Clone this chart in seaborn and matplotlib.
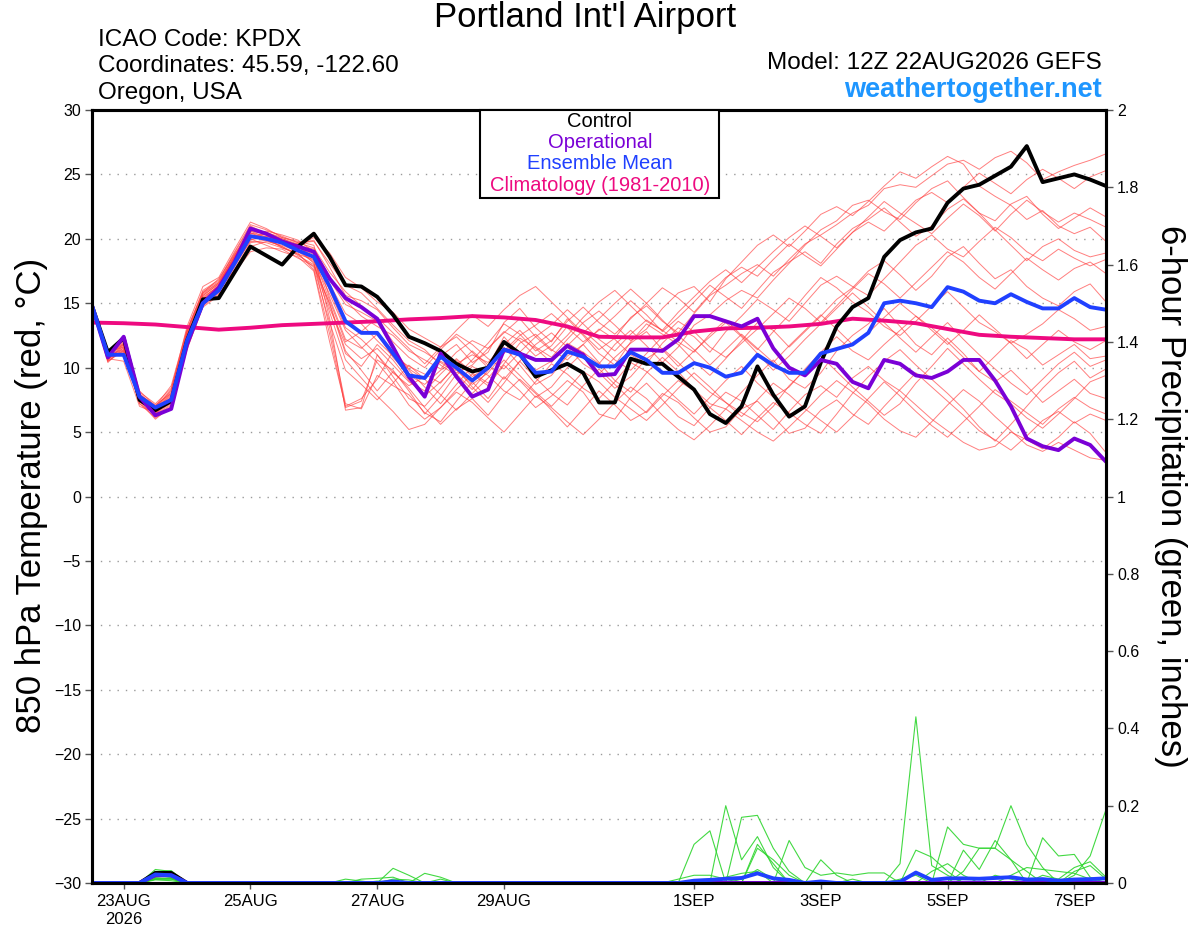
import numpy as np
import pandas as pd
import seaborn as sns
import matplotlib.pyplot as plt
from matplotlib.patches import Rectangle

# 6-hourly GEFS output, 12Z 22AUG -> 12Z 7SEP
times = pd.date_range('2026-08-22 12:00', periods=65, freq='6h')
clim_times = pd.date_range('2026-08-22 12:00', periods=33, freq='12h')

tick_days = ['2026-08-23', '2026-08-25', '2026-08-27', '2026-08-29',
             '2026-09-01', '2026-09-03', '2026-09-05', '2026-09-07']
tick_labels = ['23AUG\n2026', '25AUG', '27AUG', '29AUG', '1SEP', '3SEP', '5SEP', '7SEP']

# 850 hPa temperature (C)
control = [14.8,
           11.2, 12.3, 7.5, 6.7, 7.4, 12.1, 15.3, 15.4, 17.4, 19.4, 18.7, 18.0,
           19.4, 20.4, 18.6, 16.4, 16.3, 15.5, 14.1, 12.4, 11.9, 11.3, 10.3, 9.7,
           10.0, 12.0, 11.1, 9.3, 9.8, 10.3, 9.6, 7.3, 7.3, 10.7, 10.3, 10.3,
           9.3, 8.3, 6.4, 5.7, 7.0, 10.1, 7.9, 6.2, 7.0, 10.4, 13.2, 14.7,
           15.4, 18.6, 19.9, 20.5, 20.8, 22.8, 23.9, 24.2, 24.9, 25.6, 27.2, 24.4,
           24.7, 25.0, 24.6, 24.1]
operational = [14.8,
               10.8, 12.4, 7.75, 6.3, 6.8, 11.8, 15.0, 16.2, 18.2, 20.8, 20.4, 19.8,
               19.4, 19.0, 16.9, 15.4, 14.7, 13.8, 11.6, 9.3, 7.75, 11.1, 9.3, 7.75,
               8.3, 11.4, 11.1, 10.6, 10.6, 11.7, 11.0, 9.4, 9.5, 11.4, 11.4, 11.3,
               12.2, 14.0, 14.0, 13.6, 13.2, 13.8, 11.5, 10.0, 9.4, 10.6, 10.3, 8.9,
               8.4, 10.6, 10.3, 9.4, 9.2, 9.7, 10.6, 10.6, 9.0, 7.0, 4.5, 3.9,
               3.6, 4.5, 4.0, 2.7]
ens_mean = [14.8,
            11.0, 11.0, 7.75, 6.9, 7.5, 12.1, 15.0, 16.0, 18.1, 20.2, 20.0, 19.7,
            19.1, 18.6, 16.3, 13.6, 12.7, 12.7, 11.1, 9.4, 9.2, 10.85, 10.0, 9.0,
            10.0, 11.4, 11.0, 9.6, 9.7, 11.25, 10.85, 10.1, 10.1, 11.2, 10.6, 9.6,
            9.6, 10.35, 10.0, 9.3, 9.6, 11.0, 10.2, 9.6, 9.6, 11.1, 11.45, 11.8,
            12.7, 15.0, 15.2, 15.0, 14.7, 16.25, 15.9, 15.2, 15.0, 15.7, 15.1, 14.6,
            14.6, 15.4, 14.7, 14.5]
climatology = [13.5, 13.45, 13.35, 13.15, 12.95, 13.1, 13.3, 13.4, 13.5, 13.6, 13.75,
               13.85, 14.0, 13.9, 13.7, 13.2, 12.4, 12.35, 12.35, 12.8, 13.05, 13.1,
               13.2, 13.4, 13.8, 13.65, 13.45, 13.0, 12.55, 12.4, 12.3, 12.2, 12.2]

mem01 = [14.8, 10.6, 11.8, 7.2, 6.4, 7.6, 12.8, 15.9, 16.7, 18.9, 21.0, 20.4, 19.8,
         19.6, 19.9, 17.8, 15.6, 15.2, 14.5, 13.1, 11.8, 11.2, 10.4, 9.6, 10.2,
         11.5, 12.8, 12.1, 10.9, 11.7, 13.2, 12.6, 11.4, 12.3, 13.9, 14.8, 13.6,
         12.7, 14.2, 15.6, 16.4, 17.3, 18.0, 17.1, 18.4, 19.6, 20.3, 21.1, 22.0,
         22.6, 23.9, 24.2, 24.0, 24.9, 25.8, 26.1, 25.4, 26.3, 26.8, 25.9, 24.6,
         25.2, 25.7, 26.1, 26.6]
mem02 = [14.7, 11.2, 12.1, 8.0, 6.9, 8.3, 13.2, 16.3, 17.0, 19.2, 21.3, 20.8, 20.1,
         19.8, 19.5, 15.4, 12.2, 11.5, 12.6, 10.8, 9.4, 8.7, 9.8, 10.6, 9.3,
         10.1, 12.4, 11.0, 9.8, 10.5, 11.9, 11.2, 10.3, 11.8, 12.9, 11.7, 10.4,
         11.6, 13.3, 14.1, 15.2, 16.0, 15.4, 16.8, 18.1, 19.5, 20.7, 21.4, 22.6,
         23.0, 22.1, 21.5, 22.8, 23.9, 24.5, 23.2, 22.0, 21.4, 22.7, 23.3, 21.9,
         20.8, 21.6, 22.4, 21.7]
mem03 = [14.8, 10.9, 11.0, 7.6, 6.2, 7.1, 11.6, 15.2, 16.0, 17.6, 19.4, 19.8, 19.5,
         19.0, 18.2, 13.1, 7.2, 6.8, 9.4, 8.6, 7.9, 6.5, 5.8, 7.4, 8.9,
         7.6, 9.3, 8.2, 6.9, 7.8, 9.0, 8.1, 6.4, 6.0, 7.7, 8.8, 7.5,
         6.2, 5.5, 6.9, 8.1, 7.4, 6.3, 5.2, 6.6, 7.9, 8.6, 7.7, 9.2,
         10.1, 9.0, 8.2, 7.1, 6.0, 5.1, 4.2, 3.6, 3.9, 5.0, 4.4, 3.7,
         4.6, 5.8, 4.9, 3.4]
mem04 = [14.9, 10.5, 11.3, 7.9, 7.1, 8.0, 12.0, 14.9, 15.8, 17.8, 19.9, 20.2, 19.9,
         19.4, 18.6, 16.8, 14.9, 14.3, 13.6, 11.4, 9.9, 9.1, 10.9, 11.8, 10.4,
         11.2, 13.5, 14.6, 13.1, 12.0, 13.8, 12.5, 11.1, 10.2, 12.0, 13.4, 12.6,
         11.8, 10.5, 9.4, 10.7, 12.1, 13.5, 12.9, 11.6, 12.8, 14.0, 15.3, 16.2,
         17.5, 18.3, 17.2, 16.0, 17.1, 18.6, 19.4, 18.1, 16.9, 17.6, 16.3, 15.4,
         14.8, 15.9, 16.5, 15.1]
mem05 = [14.6, 10.7, 10.5, 7.0, 6.5, 7.4, 11.9, 15.6, 16.5, 18.6, 20.6, 20.1, 19.3,
         18.9, 17.6, 12.6, 6.9, 7.4, 10.6, 9.8, 8.2, 6.4, 7.8, 9.5, 8.3,
         9.8, 11.6, 10.2, 8.7, 9.4, 10.9, 11.8, 10.4, 9.0, 8.1, 9.6, 10.8,
         9.7, 8.3, 7.2, 6.8, 8.1, 9.4, 10.6, 9.1, 8.4, 9.6, 11.3, 12.5,
         13.4, 14.6, 13.2, 11.8, 11.0, 12.3, 11.1, 9.7, 8.9, 9.8, 8.6, 7.3,
         8.2, 9.1, 8.0, 7.6]
mem06 = [14.8, 11.0, 11.9, 7.8, 6.8, 7.9, 12.5, 15.3, 16.4, 18.5, 20.4, 20.6, 20.3,
         19.9, 19.0, 16.5, 14.2, 13.4, 12.1, 10.9, 10.1, 9.5, 8.8, 10.3, 11.0,
         10.4, 11.8, 12.9, 11.6, 10.8, 12.2, 13.5, 14.4, 13.3, 12.1, 13.0, 14.6,
         15.8, 16.3, 15.1, 16.9, 18.2, 19.5, 20.3, 19.4, 20.6, 21.9, 22.5, 21.8,
         22.9, 24.1, 25.2, 24.7, 25.6, 26.4, 25.8, 24.1, 23.3, 22.6, 21.5, 22.2,
         21.0, 20.4, 20.9, 19.8]
mem07 = [14.8, 10.4, 11.6, 7.4, 6.0, 7.0, 11.4, 14.8, 15.7, 17.4, 19.0, 19.3, 19.2,
         18.5, 17.9, 15.0, 11.3, 9.8, 8.2, 9.7, 8.4, 6.9, 5.6, 6.8, 7.6,
         6.3, 7.9, 9.1, 8.0, 6.7, 5.4, 6.8, 8.2, 7.1, 5.9, 6.6, 8.0,
         7.3, 6.1, 5.0, 5.4, 6.8, 7.4, 6.2, 4.9, 5.3, 6.7, 7.5, 6.4,
         5.6, 7.0, 8.3, 9.6, 8.5, 7.4, 6.3, 5.1, 4.4, 3.6, 4.7, 5.9,
         6.6, 5.7, 6.4, 5.9]
mem08 = [14.7, 11.1, 12.4, 8.2, 7.0, 8.6, 13.0, 15.8, 16.9, 18.8, 20.5, 19.9, 19.4,
         18.8, 18.4, 14.6, 11.8, 10.7, 11.5, 10.2, 8.9, 8.2, 9.5, 10.7, 9.6,
         8.8, 10.3, 11.9, 12.6, 11.4, 10.6, 11.8, 13.0, 12.2, 11.0, 10.3, 11.9,
         13.1, 12.4, 11.2, 12.8, 14.0, 15.3, 14.5, 13.6, 15.0, 16.4, 17.1, 16.3,
         15.6, 16.9, 18.2, 19.5, 20.3, 19.2, 18.6, 19.8, 20.9, 20.1, 19.0, 18.3,
         19.2, 18.5, 17.9, 18.4]
mem09 = [14.8, 10.9, 11.4, 7.7, 6.6, 7.5, 12.2, 15.5, 16.3, 18.4, 20.2, 20.0, 19.6,
         19.3, 18.8, 13.8, 6.7, 6.9, 11.0, 9.3, 7.6, 7.0, 8.4, 9.9, 8.5,
         7.3, 8.8, 10.5, 9.2, 8.0, 7.1, 8.6, 9.9, 8.7, 7.5, 6.5, 7.8,
         9.0, 8.2, 6.9, 5.9, 4.8, 6.1, 7.3, 6.5, 5.6, 4.9, 6.4, 8.0,
         9.3, 10.5, 11.4, 10.2, 9.1, 8.0, 6.8, 5.4, 4.3, 5.6, 7.0, 8.4,
         9.6, 10.5, 9.2, 9.9]
mem10 = [14.8, 10.6, 11.7, 7.5, 6.7, 7.7, 12.6, 15.1, 16.0, 18.1, 20.7, 20.5, 20.0,
         19.5, 19.2, 17.1, 15.2, 14.0, 13.2, 12.5, 11.3, 10.6, 9.9, 11.2, 12.1,
         11.5, 12.7, 13.8, 12.4, 11.3, 12.5, 13.9, 15.1, 16.0, 14.8, 13.6, 12.9,
         12.0, 11.2, 12.6, 13.7, 12.5, 11.4, 12.8, 14.1, 15.6, 17.0, 16.2, 15.1,
         14.3, 13.2, 12.5, 13.6, 14.8, 15.9, 14.7, 13.5, 12.8, 11.9, 12.6, 13.4,
         14.5, 13.8, 12.9, 13.2]
mem11 = [14.9, 11.3, 12.2, 7.9, 6.3, 7.2, 11.8, 15.0, 16.1, 18.2, 20.0, 19.5, 19.0,
         18.6, 17.5, 12.0, 7.0, 7.6, 9.1, 11.3, 9.8, 8.5, 7.2, 8.7, 10.1,
         9.4, 8.2, 7.5, 8.9, 10.3, 9.5, 8.4, 7.6, 8.9, 10.4, 9.7, 8.6,
         7.5, 6.4, 7.7, 9.0, 10.1, 8.8, 7.7, 8.5, 9.9, 11.2, 12.4, 11.3,
         10.6, 11.8, 12.9, 14.0, 13.1, 12.0, 10.8, 9.7, 10.9, 12.1, 11.4, 10.2,
         11.0, 11.8, 10.7, 10.9]
mem12 = [14.8, 10.8, 11.1, 7.3, 6.9, 8.1, 12.9, 16.0, 16.8, 19.0, 21.1, 20.7, 20.2,
         19.7, 19.8, 18.1, 16.4, 15.8, 14.6, 13.3, 12.1, 11.4, 10.2, 9.4, 10.6,
         11.9, 13.4, 12.6, 11.3, 12.1, 13.6, 14.7, 13.5, 12.6, 13.8, 15.0, 16.2,
         15.4, 14.3, 15.7, 17.0, 17.8, 17.1, 18.4, 19.6, 18.7, 17.9, 19.2, 20.5,
         21.3, 20.6, 21.8, 23.0, 23.6, 22.8, 24.0, 25.1, 24.3, 23.5, 24.6, 25.4,
         24.7, 23.9, 24.8, 25.3]
mem13 = [14.8, 10.7, 11.2, 7.6, 6.4, 7.3, 12.1, 15.2, 16.1, 18.0, 20.3, 20.2, 19.7,
         19.1, 18.3, 15.7, 12.9, 11.6, 10.4, 8.9, 7.1, 6.0, 6.9, 8.3, 9.5,
         8.6, 10.2, 9.0, 7.7, 8.5, 10.0, 11.2, 9.6, 8.4, 9.3, 10.7, 11.5,
         10.4, 9.2, 8.1, 7.3, 6.5, 5.8, 7.0, 8.6, 9.8, 10.9, 9.7, 8.5,
         7.4, 6.3, 7.2, 8.8, 10.1, 11.5, 10.3, 9.1, 8.0, 7.2, 6.1, 5.3,
         6.4, 7.6, 8.9, 9.4]
mem14 = [14.8, 11.0, 12.0, 8.1, 7.2, 8.4, 12.7, 15.7, 16.6, 18.7, 20.9, 20.3, 19.8,
         19.5, 20.1, 18.9, 17.0, 16.2, 15.1, 14.3, 13.0, 12.3, 11.6, 12.4, 11.2,
         10.0, 11.3, 12.5, 13.3, 14.2, 13.1, 12.0, 12.9, 14.0, 15.2, 14.1, 12.8,
         13.9, 15.1, 16.4, 15.5, 14.6, 16.0, 17.4, 18.2, 19.0, 18.1, 19.6, 20.8,
         21.5, 22.4, 21.3, 20.2, 21.0, 22.3, 23.1, 22.0, 20.7, 19.5, 18.3, 19.4,
         20.0, 19.1, 18.6, 18.9]
mem15 = [14.7, 10.5, 11.4, 7.2, 6.1, 6.9, 11.5, 14.7, 15.6, 17.6, 19.7, 19.9, 19.4,
         18.7, 18.0, 14.3, 10.6, 9.2, 7.8, 6.6, 5.2, 5.6, 6.9, 8.1, 7.3,
         6.1, 5.0, 6.4, 7.8, 6.9, 5.8, 4.8, 6.0, 7.3, 8.5, 7.6, 6.3,
         5.2, 4.4, 5.5, 6.8, 5.9, 5.0, 4.3, 5.4, 6.6, 7.9, 9.0, 8.1,
         7.2, 6.0, 5.1, 4.6, 5.8, 7.1, 8.3, 7.4, 6.2, 5.1, 4.0, 3.5,
         4.2, 3.6, 3.0, 2.8]
mem16 = [14.8, 11.2, 11.6, 7.8, 6.8, 7.8, 12.4, 15.4, 16.4, 18.5, 20.1, 20.4, 20.0,
         19.6, 18.9, 16.0, 13.1, 12.2, 11.0, 9.6, 8.6, 9.3, 10.5, 9.8, 8.7,
         9.6, 11.1, 12.3, 11.5, 10.4, 11.7, 12.9, 11.8, 10.6, 9.8, 11.1, 12.4,
         13.6, 12.8, 11.6, 10.8, 11.9, 13.0, 14.2, 15.4, 14.6, 13.5, 14.8, 16.1,
         17.3, 16.5, 15.4, 16.6, 17.8, 19.0, 18.2, 17.0, 16.1, 17.3, 18.5, 17.6,
         16.8, 17.7, 18.2, 17.3]
mem17 = [14.8, 10.8, 11.3, 7.4, 6.5, 7.6, 12.0, 15.0, 15.9, 18.0, 19.8, 19.7, 19.3,
         18.8, 17.8, 13.5, 9.8, 8.7, 7.5, 8.8, 10.2, 9.1, 7.9, 6.7, 8.0,
         9.2, 10.6, 9.4, 8.1, 7.0, 8.3, 9.7, 8.9, 7.7, 6.8, 5.9, 7.1,
         8.4, 9.6, 8.5, 7.3, 6.2, 7.5, 8.8, 7.9, 6.8, 5.9, 5.0, 6.2,
         7.6, 8.9, 7.8, 6.6, 5.5, 4.6, 5.8, 7.0, 8.3, 7.4, 6.5, 5.6,
         6.8, 7.7, 6.9, 6.4]
mem18 = [14.8, 11.0, 11.8, 7.7, 6.6, 7.7, 12.3, 15.3, 16.2, 18.3, 20.4, 20.3, 19.9,
         19.4, 18.5, 15.2, 12.0, 12.8, 13.9, 12.7, 11.5, 10.3, 11.6, 12.9, 14.1,
         13.2, 14.5, 15.6, 16.3, 15.1, 13.9, 12.7, 13.8, 15.0, 16.1, 15.0, 13.7,
         12.5, 11.4, 10.2, 11.4, 12.6, 11.5, 10.4, 11.7, 12.9, 14.1, 13.0, 11.8,
         12.7, 13.9, 15.0, 14.0, 12.9, 11.8, 12.9, 14.1, 13.0, 11.9, 10.7, 11.8,
         12.9, 12.0, 11.4, 12.1]
mem19 = [14.8, 10.7, 11.9, 7.6, 6.8, 8.0, 12.6, 15.6, 16.5, 18.6, 20.6, 20.5, 20.1,
         19.7, 19.3, 17.4, 15.9, 14.8, 13.7, 12.0, 10.8, 10.0, 11.4, 12.6, 11.8,
         10.7, 9.9, 11.2, 12.4, 13.3, 14.5, 13.4, 12.2, 11.3, 12.6, 13.7, 12.9,
         14.3, 15.5, 16.7, 17.6, 16.6, 17.8, 19.0, 20.1, 21.0, 20.2, 19.3, 20.5,
         21.7, 22.9, 22.0, 21.2, 20.4, 21.6, 22.7, 21.8, 20.6, 21.9, 23.0, 22.1,
         21.3, 22.0, 21.5, 20.9]
mem20 = [14.8, 10.9, 11.5, 7.9, 7.0, 8.2, 12.8, 15.8, 16.6, 18.7, 20.8, 20.4, 19.7,
         19.2, 18.1, 14.9, 11.1, 10.1, 11.8, 10.6, 9.0, 7.8, 8.9, 10.1, 11.3,
         10.2, 9.1, 10.5, 11.8, 12.7, 11.6, 10.3, 9.5, 10.8, 11.9, 12.8, 11.4,
         10.1, 11.3, 12.4, 13.5, 12.4, 11.1, 9.8, 10.9, 12.2, 13.4, 14.6, 15.8,
         14.7, 13.5, 12.3, 11.2, 12.4, 13.5, 12.2, 11.0, 9.9, 8.8, 7.9, 9.1,
         10.3, 11.2, 10.1, 10.6]
members = [mem01, mem02, mem03, mem04, mem05, mem06, mem07, mem08, mem09, mem10,
           mem11, mem12, mem13, mem14, mem15, mem16, mem17, mem18, mem19, mem20]

# 6-hour precipitation (inches), nonzero steps only {step index: amount}
pcp01 = {4: 0.035, 5: 0.03, 38: 0.10, 39: 0.135, 51: 0.05, 52: 0.43, 53: 0.045, 54: 0.02}
pcp02 = {4: 0.03, 5: 0.032, 40: 0.2, 41: 0.06, 42: 0.12, 43: 0.04}
pcp03 = {4: 0.025, 5: 0.028, 41: 0.17, 42: 0.175, 43: 0.09, 44: 0.03}
pcp04 = {4: 0.02, 5: 0.02, 19: 0.038, 20: 0.02, 42: 0.1, 43: 0.05, 54: 0.145, 55: 0.1,
         56: 0.09, 57: 0.09, 58: 0.2, 59: 0.1, 60: 0.04}
pcp05 = {4: 0.018, 5: 0.015, 16: 0.01, 17: 0.005, 21: 0.025, 22: 0.015, 44: 0.11, 45: 0.04,
         46: 0.02, 47: 0.026, 48: 0.02, 49: 0.026, 50: 0.026}
pcp06 = {4: 0.012, 5: 0.012, 37: 0.01, 38: 0.02, 39: 0.02, 40: 0.01, 46: 0.06, 47: 0.02,
         52: 0.085, 53: 0.067, 54: 0.03}
pcp07 = {4: 0.01, 5: 0.01, 17: 0.01, 18: 0.012, 19: 0.015, 55: 0.085, 56: 0.035, 57: 0.11,
         58: 0.06, 59: 0.03}
pcp08 = {4: 0.008, 5: 0.006, 60: 0.117, 61: 0.07, 62: 0.074, 63: 0.015}
pcp09 = {62: 0.02, 63: 0.07, 64: 0.19}
pcp10 = {4: 0.03, 5: 0.025, 42: 0.09, 43: 0.06, 44: 0.02, 55: 0.03, 56: 0.09, 57: 0.09, 58: 0.06}
pcp11 = {41: 0.01, 42: 0.035, 43: 0.01, 58: 0.02, 59: 0.04, 60: 0.035, 61: 0.03, 62: 0.025, 63: 0.01}
pcp12 = {4: 0.015, 5: 0.018, 22: 0.01, 53: 0.03, 54: 0.05, 55: 0.02, 61: 0.01, 62: 0.04,
         63: 0.055, 64: 0.015}
pcp13 = {19: 0.01, 20: 0.008, 38: 0.008, 39: 0.01, 51: 0.01, 52: 0.02, 60: 0.02, 61: 0.01}
pcp14 = {4: 0.02, 5: 0.02, 40: 0.015, 41: 0.025, 42: 0.03, 62: 0.03, 63: 0.045, 64: 0.01}
pcp15 = {4: 0.01, 5: 0.01}
pcp16 = {4: 0.02, 5: 0.015, 18: 0.005}
pcp17 = {}
pcp18 = {4: 0.015, 5: 0.02, 48: 0.01}
pcp19 = {4: 0.025, 5: 0.02, 57: 0.02, 58: 0.01}
pcp20 = {4: 0.01, 5: 0.012}
member_pcp = [pcp01, pcp02, pcp03, pcp04, pcp05, pcp06, pcp07, pcp08, pcp09, pcp10,
              pcp11, pcp12, pcp13, pcp14, pcp15, pcp16, pcp17, pcp18, pcp19, pcp20]
control_pcp = {4: 0.026, 5: 0.026}
operational_pcp = {4: 0.02, 5: 0.02}
mean_pcp = {4: 0.022, 5: 0.02, 19: 0.004, 38: 0.006, 39: 0.008, 40: 0.011, 41: 0.013,
            42: 0.025, 43: 0.012, 44: 0.008, 46: 0.004, 51: 0.003, 52: 0.027, 53: 0.008,
            54: 0.012, 55: 0.012, 56: 0.011, 57: 0.013, 58: 0.015, 59: 0.009, 60: 0.01,
            61: 0.006, 62: 0.009, 63: 0.01, 64: 0.012}

legend_labels = ['Control', 'Operational', 'Ensemble Mean', 'Climatology (1981-2010)']


def expand(sparse):
    vals = np.zeros(len(times))
    for k, v in sparse.items():
        vals[k] = v
    return vals


temp_df = pd.DataFrame({
    'time': np.tile(times, len(members)),
    'temp': np.concatenate(members),
    'member': np.repeat(np.arange(len(members)), len(times)),
})
pcp_df = pd.DataFrame({
    'time': np.tile(times, len(member_pcp)),
    'pcp': np.concatenate([expand(p) for p in member_pcp]),
    'member': np.repeat(np.arange(len(member_pcp)), len(times)),
})

sns.set_style('white')
plt.rcParams['font.family'] = ['Liberation Sans', 'DejaVu Sans']
plt.rcParams['text.color'] = 'black'
plt.rcParams['xtick.labelcolor'] = 'black'
plt.rcParams['ytick.labelcolor'] = 'black'

RED = '#ff3a3a'
GREEN = '#2ed52e'
PURPLE = '#7a00d6'
BLUE = '#2040ff'
PINK = '#ee0a80'

fig = plt.figure(figsize=(12, 9.27), dpi=100)
ax = fig.add_axes([92 / 1200, 1 - 883 / 927, 1014 / 1200, 773 / 927])
ax2 = ax.twinx()

# temperatures
sns.lineplot(data=temp_df, x='time', y='temp', units='member', estimator=None,
             color=RED, lw=0.7, alpha=0.65, ax=ax)
sns.lineplot(x=clim_times, y=climatology, color=PINK, lw=2.8, ax=ax)
sns.lineplot(x=times, y=control, color='black', lw=2.8, ax=ax)
sns.lineplot(x=times, y=operational, color=PURPLE, lw=2.8, ax=ax)
sns.lineplot(x=times, y=ens_mean, color=BLUE, lw=2.8, ax=ax)

# precipitation
sns.lineplot(data=pcp_df, x='time', y='pcp', units='member', estimator=None,
             color=GREEN, lw=0.8, alpha=0.9, ax=ax2)
sns.lineplot(x=times, y=expand(control_pcp), color='black', lw=2.8, ax=ax2)
sns.lineplot(x=times, y=expand(operational_pcp), color=PURPLE, lw=2.8, ax=ax2)
sns.lineplot(x=times, y=expand(mean_pcp), color=BLUE, lw=2.8, ax=ax2)

ax.set_ylim(-30, 30)
ax.set_yticks(np.arange(-30, 31, 5))
ax.set_xlim(times[0], times[-1])
ax.set_xticks(pd.to_datetime(tick_days))
ax.set_xticklabels(tick_labels, fontsize=12, multialignment='center')
ax.set_xlabel('')
ax.set_ylabel('')
ax.yaxis.grid(True, linestyle=(0, (1, 5)), color='#9a9a9a', lw=1)
ax.xaxis.grid(False)
ax.tick_params(axis='y', direction='out', length=5, width=1, color='#555555',
               labelsize=11.5, pad=3, left=True, labelcolor='black')
ax.tick_params(axis='x', direction='out', length=4, width=1, color='#555555',
               pad=4, bottom=True, labelcolor='black')

ax2.set_ylim(0, 2)
ax2.set_yticks(np.arange(0, 2.01, 0.2))
ax2.set_yticklabels(['%g' % round(v, 1) for v in np.arange(0, 2.01, 0.2)])
ax2.set_ylabel('')
ax2.tick_params(axis='y', direction='out', length=5, width=1, color='#555555',
                labelsize=11.5, pad=3, right=True, labelcolor='black')
ax2.grid(False)

for a in (ax, ax2):
    for s in a.spines.values():
        s.set_color('black')
        s.set_linewidth(2.2)

# legend box: coloured text only, centred
box_l, box_r, box_t, box_b = 480, 719, 110, 198
ax2.add_patch(Rectangle(((box_l - 92) / 1014, (883 - box_b) / 773),
                        (box_r - box_l) / 1014, (box_b - box_t) / 773,
                        transform=ax2.transAxes, facecolor='white', edgecolor='black',
                        lw=1.5, zorder=10, clip_on=False))
for lab, col, ypix in zip(legend_labels, ['black', PURPLE, BLUE, PINK], [121, 142, 163, 185]):
    ax2.text((600 - 92) / 1014, (883 - ypix) / 773, lab, color=col, fontsize=14.5,
             ha='center', va='center', transform=ax2.transAxes, zorder=11)

fig.text(585 / 1200, 1 - 18 / 927, "Portland Int'l Airport", ha='center', va='center',
         fontsize=25, color='black')
fig.text(98 / 1200, 1 - 40 / 927, 'ICAO Code: KPDX', ha='left', va='center', fontsize=17.5)
fig.text(98 / 1200, 1 - 66 / 927, 'Coordinates: 45.59, -122.60', ha='left', va='center', fontsize=17.5)
fig.text(98 / 1200, 1 - 93 / 927, 'Oregon, USA', ha='left', va='center', fontsize=17.5)
fig.text(1102 / 1200, 1 - 63 / 927, 'Model: 12Z 22AUG2026 GEFS', ha='right', va='center', fontsize=17.5)
fig.text(1102 / 1200, 1 - 90 / 927, 'weathertogether.net', ha='right', va='center',
         fontsize=19.5, fontweight='bold', color='#1e96ff')
fig.text(32 / 1200, 1 - 495 / 927, '850 hPa Temperature (red, °C)', ha='center', va='center',
         rotation=90, fontsize=25)
fig.text(1170 / 1200, 1 - 496 / 927, '6-hour Precipitation (green, inches)', ha='center',
         va='center', rotation=-90, fontsize=25)

fig.savefig('out.png', dpi=100)
